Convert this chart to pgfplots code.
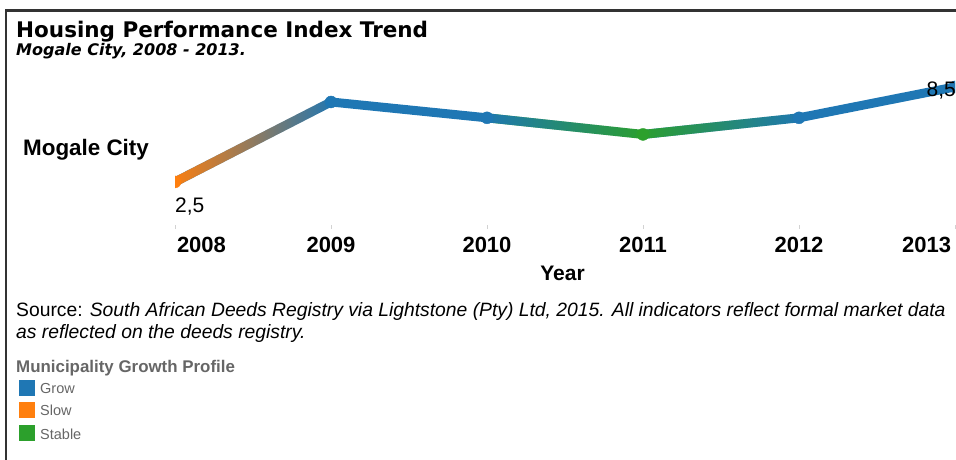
\documentclass[border=0pt]{standalone}
\usepackage{fontspec}
\setmainfont{Liberation Sans}
\newfontfamily\dejavu{DejaVu Sans}
\usepackage{pgfplots}
\pgfplotsset{compat=1.18}
\usepackage{pgfplotstable}
\usetikzlibrary{fadings}

\definecolor{tgrow}{RGB}{31,119,180}
\definecolor{tslow}{RGB}{255,127,14}
\definecolor{tstable}{RGB}{44,160,44}
\definecolor{framec}{RGB}{51,51,51}
\definecolor{legtxt}{RGB}{102,102,102}

% opaque on the left, transparent on the right
\tikzfading[name=fadeR, left color=transparent!0, right color=transparent!100]

\newcommand\fsz[1]{\fontsize{#1bp}{1.2\dimexpr#1bp\relax}\selectfont}

\tikzset{seg/.style={line width=9bp, line cap=round, line join=round, mark=none}}

% housing performance index, Mogale City
\pgfplotstableread{
year value profile
2008 2.5  s
2009 7.55 g
2010 6.55 g
2011 5.5  t
2012 6.55 g
2013 8.5  g
}\hpi

\begin{document}
\begin{tikzpicture}
\path[use as bounding box] (0,0) rectangle (956bp,460bp);
\clip (0,0) rectangle (956bp,460bp);

% frame
\draw[framec, line width=2.2bp] (6.2bp,-5bp) -- (6.2bp,449.5bp) -- (965bp,449.5bp);

% titles
\node[anchor=base west, inner sep=0, font=\dejavu\bfseries\fsz{21.5}] at (16bp,422bp) {Housing Performance Index Trend};
\node[anchor=base west, inner sep=0, font=\dejavu\bfseries\itshape\fsz{16}] at (16bp,404.5bp) {Mogale City, 2008 - 2013.};

% row label
\node[anchor=base west, inner sep=0, font=\bfseries\fsz{22.4}] at (23bp,304bp) {Mogale City};

\begin{axis}[
  at={(175bp,235bp)}, anchor=south west,
  scale only axis, width=780bp, height=161.8bp,
  xmin=2008, xmax=2013, ymin=-0.22, ymax=10,
  axis x line*=bottom, axis y line=none,
  x axis line style={draw=none},
  xtick={2008,2009,2010,2011,2012,2013},
  xticklabels={\makebox[0pt][l]{\hspace{2bp}2008},2009,2010,2011,2012,\makebox[0pt][r]{2013\hspace{4bp}}},
  tick align=outside, major tick length=4bp,
  tick style={gray!35, line width=0.8bp},
  xticklabel style={font=\bfseries\fsz{22}, yshift=-5bp},
  xlabel={Year},
  x label style={at={(axis description cs:0.4968,0)}, anchor=base, yshift=-56bp, font=\bfseries\fsz{21}},
  clip mode=individual, clip marker paths=true,
]
% segments: base colour, then the start colour fading out to the right
\addplot[seg, tgrow, restrict x to domain=2008:2009] table[x=year, y=value] {\hpi};
\addplot[seg, tslow, path fading=fadeR, restrict x to domain=2008:2009] table[x=year, y=value] {\hpi};
\addplot[seg, tgrow, restrict x to domain=2009:2010] table[x=year, y=value] {\hpi};
\addplot[seg, tstable, restrict x to domain=2010:2011] table[x=year, y=value] {\hpi};
\addplot[seg, tgrow, path fading=fadeR, restrict x to domain=2010:2011] table[x=year, y=value] {\hpi};
\addplot[seg, tgrow, restrict x to domain=2011:2012] table[x=year, y=value] {\hpi};
\addplot[seg, tstable, path fading=fadeR, restrict x to domain=2011:2012] table[x=year, y=value] {\hpi};
\addplot[seg, tgrow, restrict x to domain=2012:2013] table[x=year, y=value] {\hpi};

% points coloured by growth profile
\addplot[scatter, only marks,
  scatter src=explicit symbolic,
  scatter/classes={
    g={mark=*, mark size=6bp, draw=tgrow, fill=tgrow},
    s={mark=*, mark size=6bp, draw=tslow, fill=tslow},
    t={mark=*, mark size=6bp, draw=tstable, fill=tstable}}]
  table[x=year, y=value, meta=profile] {\hpi};

\node[anchor=base west, inner sep=0, font=\fsz{21}, yshift=-31bp] at (axis cs:2008,2.5) {2,5};
\node[anchor=base east, inner sep=0, font=\fsz{21}, yshift=-10bp, xshift=1bp] at (axis cs:2013,8.5) {8,5};
\end{axis}

% source note
\node[anchor=base west, inner sep=0, align=left, font=\fsz{19.3}] at (16bp,121.7bp)
  {Source: \textit{South African Deeds Registry via Lightstone (Pty) Ltd, 2015. All indicators reflect formal market data}\\[-1bp]
   \textit{as reflected on the deeds registry.}};

% legend
\node[anchor=base west, inner sep=0, text=legtxt, font=\bfseries\fsz{16.9}] at (16bp,87bp) {Municipality Growth Profile};
\fill[tgrow]   (19bp,64bp) rectangle (35bp,80bp);
\fill[tslow]   (19bp,42bp) rectangle (35bp,58bp);
\fill[tstable] (19bp,19bp) rectangle (35bp,35bp);
\node[anchor=base west, inner sep=0, text=legtxt, font=\fsz{14.5}] at (40bp,66.7bp) {Grow};
\node[anchor=base west, inner sep=0, text=legtxt, font=\fsz{14.5}] at (40bp,44bp) {Slow};
\node[anchor=base west, inner sep=0, text=legtxt, font=\fsz{14.5}] at (40bp,21bp) {Stable};
\end{tikzpicture}
\end{document}
